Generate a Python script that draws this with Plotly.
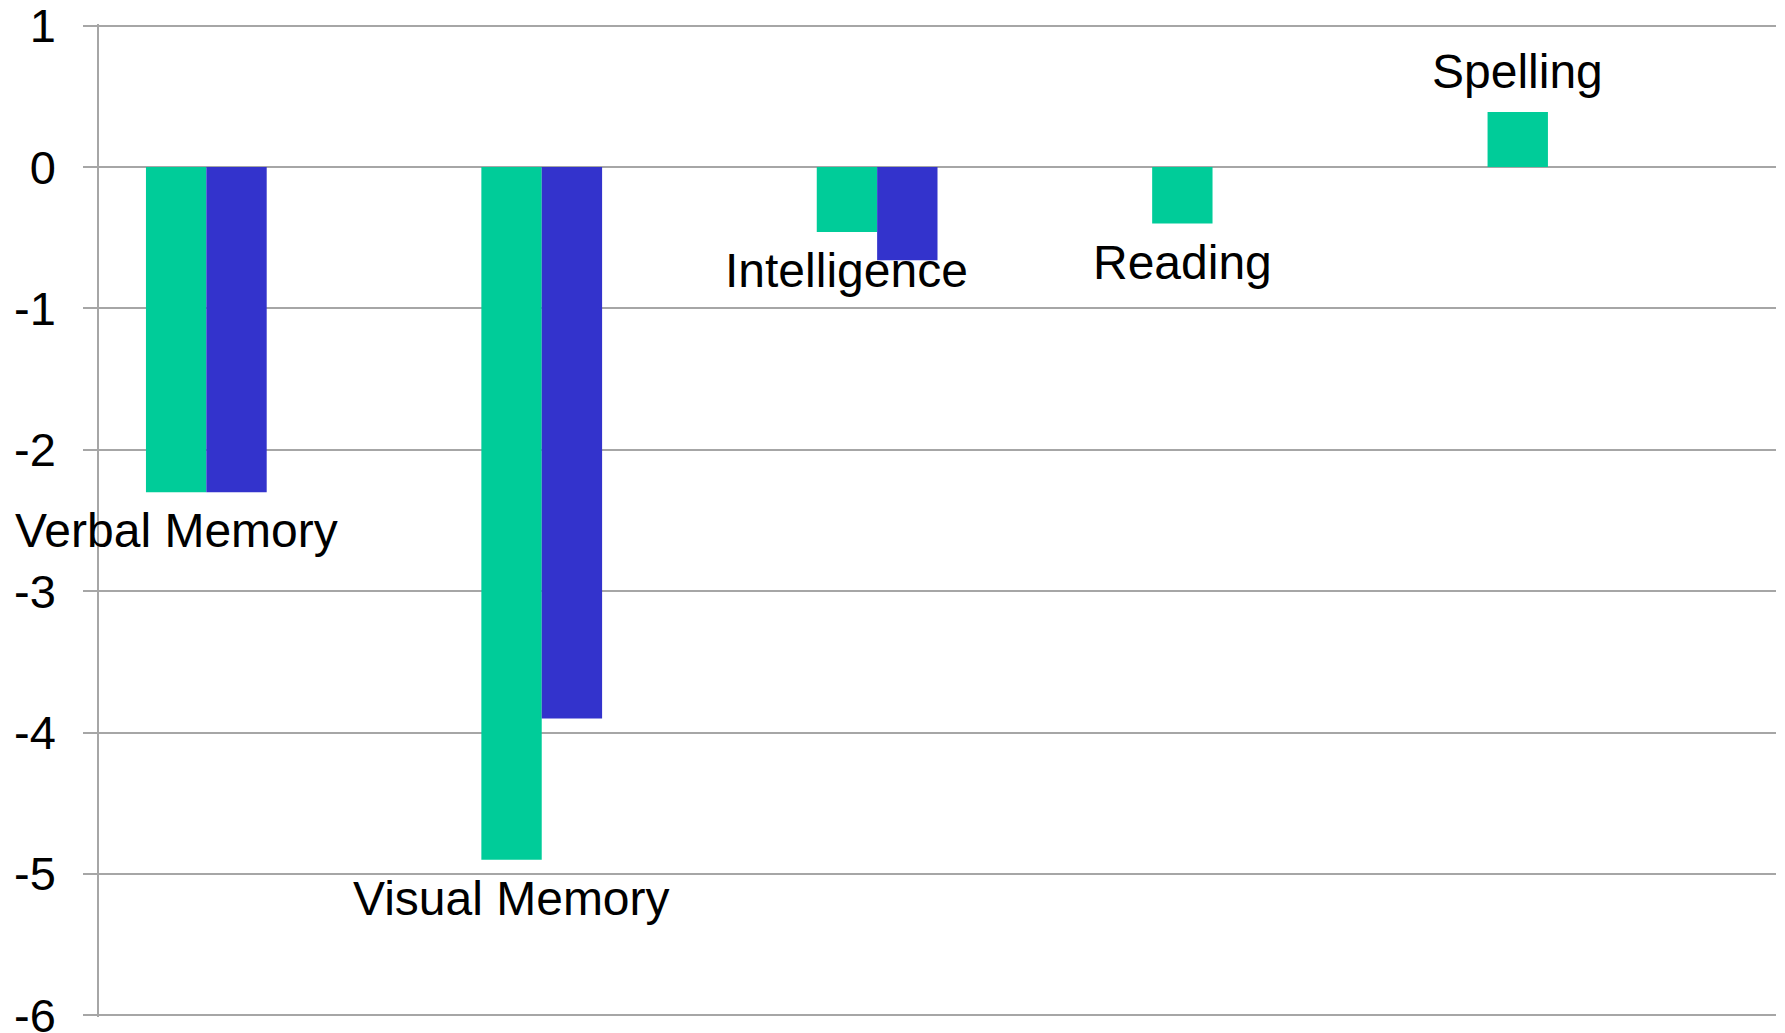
import plotly.graph_objects as go

categories = ["Verbal Memory", "Visual Memory", "Intelligence", "Reading", "Spelling"]
series_a = [-2.30, -4.90, -0.46, -0.40, 0.39]
series_b = [-2.30, -3.90, -0.66, None, None]
tick_vals = [1, 0, -1, -2, -3, -4, -5, -6]
tick_text = ["1", "0", "-1", "-2", "-3", "-4", "-5", "-6"]

GREEN = "#00CC99"
BLUE = "#3333CC"
GRID = "#a6a6a6"
FONT = "Liberation Sans, Arial, sans-serif"
BAR_W = 0.18
OFF_A = -0.36
OFF_B = -0.18

fig = go.Figure()
fig.add_trace(go.Bar(x=categories, y=series_a, marker=dict(color=GREEN, line=dict(width=0)),
                     width=BAR_W, offset=OFF_A, showlegend=False))
fig.add_trace(go.Bar(x=categories, y=series_b, marker=dict(color=BLUE, line=dict(width=0)),
                     width=BAR_W, offset=OFF_B, showlegend=False))

for i, (cat, v) in enumerate(zip(categories, series_a)):
    neg = v < 0
    fig.add_annotation(x=i + OFF_A + BAR_W / 2, y=v, xref="x", yref="y", text=cat,
                       showarrow=False, xanchor="center",
                       yanchor="top" if neg else "bottom",
                       yshift=-10 if neg else 12,
                       font=dict(family=FONT, size=48, color="black"))

fig.update_layout(
    width=1785, height=1033,
    margin=dict(l=99, r=9, t=24, b=16),
    paper_bgcolor="white", plot_bgcolor="white",
    barmode="overlay",
    font=dict(family=FONT, size=47, color="black"),
)
fig.update_xaxes(type="category", range=[-0.5, 4.5], showticklabels=False, showgrid=False,
                 showline=False, zeroline=False, ticks="")
fig.update_yaxes(range=[-6.012, 1.012], tickvals=tick_vals, ticktext=tick_text,
                 showgrid=True, gridcolor=GRID, gridwidth=1.5,
                 zeroline=False, showline=True, linecolor=GRID, linewidth=1.5,
                 ticks="outside", ticklen=14, tickcolor=GRID, tickwidth=1.5,
                 ticklabelstandoff=18, ticklabeloverflow="allow", automargin=False,
                 tickfont=dict(family=FONT, size=47, color="black"))

fig.write_html("out.html", config={"displayModeBar": False},
               post_script="document.body.style.margin='0';document.body.style.overflow='hidden';")
